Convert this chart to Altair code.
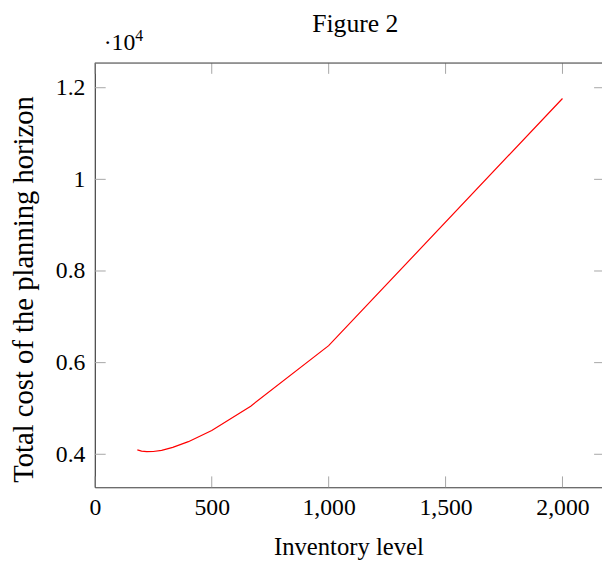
import altair as alt
import pandas as pd

# ---- data ----
inventory = [181.8, 200, 222.2, 250, 285.7, 333.3, 400, 500, 666.7, 1000, 2000]
cost = [4095, 4070, 4058, 4060, 4085, 4150, 4275, 4520, 5050, 6370, 11765]
x_ticks = [0, 500, 1000, 1500, 2000]
y_ticks = [4000, 6000, 8000, 10000, 12000]

W, H = 514, 430
X_DOMAIN = [0, 2169]
Y_DOMAIN = [3280, 12540]
FONT = "Liberation Serif"
BORDER = "#444444"
TICK = "#a6a6a6"

df = pd.DataFrame({"inventory": inventory, "cost": cost})
xt = pd.DataFrame({"v": x_ticks})
yt = pd.DataFrame({"v": y_ticks})
one = pd.DataFrame({"a": [0]})

xs = alt.Scale(domain=X_DOMAIN, nice=False, zero=False)
ys = alt.Scale(domain=Y_DOMAIN, nice=False, zero=False)

x_axis = alt.Axis(
    values=x_ticks, format=",.0f", title="Inventory level", grid=False, ticks=False,
    labelPadding=9, labelFlush=False, labelOverlap=False,
    labelFont=FONT, labelFontSize=24, labelColor="black",
    titleFont=FONT, titleFontSize=25, titleFontWeight="normal", titleColor="black",
    titleX=W / 2, titleY=68, titleBaseline="alphabetic", titleAlign="center",
    domainColor=BORDER, domainWidth=1.2,
)
y_axis = alt.Axis(
    values=y_ticks, labelExpr="'' + datum.value / 10000",
    title="Total cost of the planning horizon", grid=False, ticks=False,
    labelPadding=10, labelFlush=False, labelOverlap=False,
    labelFont=FONT, labelFontSize=24, labelColor="black",
    titleFont=FONT, titleFontSize=29, titleFontWeight="normal", titleColor="black",
    titleX=-63, titleY=229, titleBaseline="alphabetic", titleAlign="center",
    titleAngle=270, domainColor=BORDER, domainWidth=1.2,
)

line = alt.Chart(df).mark_line(color="#ff0000", strokeWidth=1.2).encode(
    x=alt.X("inventory:Q", scale=xs, axis=x_axis),
    y=alt.Y("cost:Q", scale=ys, axis=y_axis),
)

xtick_bottom = alt.Chart(xt).mark_rule(color=TICK, strokeWidth=1).encode(
    x=alt.X("v:Q", scale=xs, axis=x_axis), y=alt.value(H - 11), y2=alt.value(H)
)
xtick_top = alt.Chart(xt).mark_rule(color=TICK, strokeWidth=1).encode(
    x=alt.X("v:Q", scale=xs, axis=x_axis), y=alt.value(0), y2=alt.value(11)
)
ytick_left = alt.Chart(yt).mark_rule(color=TICK, strokeWidth=1).encode(
    y=alt.Y("v:Q", scale=ys, axis=y_axis), x=alt.value(0), x2=alt.value(11)
)
ytick_right = alt.Chart(yt).mark_rule(color=TICK, strokeWidth=1).encode(
    y=alt.Y("v:Q", scale=ys, axis=y_axis), x=alt.value(W - 8), x2=alt.value(W)
)
top_border = alt.Chart(one).mark_rule(color=BORDER, strokeWidth=1.2).encode(
    x=alt.value(0), x2=alt.value(W), y=alt.value(0)
)
scale_label = alt.Chart(one).mark_text(
    text="·10", align="left", baseline="alphabetic", font=FONT, fontSize=24, color="black"
).encode(x=alt.value(9), y=alt.value(-13))
scale_exp = alt.Chart(one).mark_text(
    text="4", align="left", baseline="alphabetic", font=FONT, fontSize=16, color="black"
).encode(x=alt.value(41), y=alt.value(-22))

chart = alt.layer(
    line, xtick_bottom, xtick_top, ytick_left, ytick_right, top_border, scale_label, scale_exp
).properties(
    width=W,
    height=H,
    title=alt.Title("Figure 2", font=FONT, fontSize=26, fontWeight="normal", color="black",
                    anchor="middle", frame="group", offset=4, dy=13, dx=7),
    autosize=alt.AutoSizeParams(type="none"),
    padding={"left": 88, "top": 52, "right": 0, "bottom": 70},
).configure_view(stroke=None).configure(background="white")

chart.save("out.html", embed_options={"renderer": "svg", "actions": False})
